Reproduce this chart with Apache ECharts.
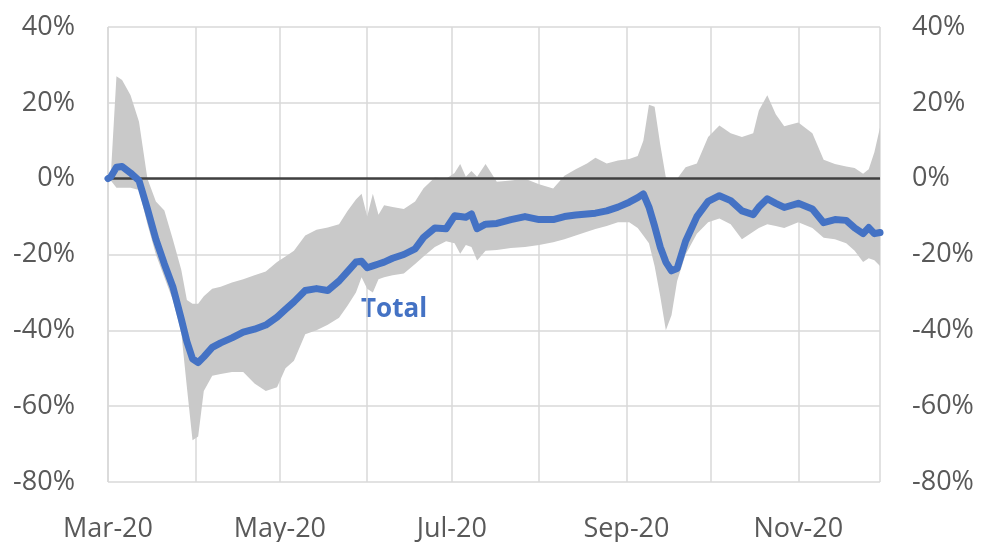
<!DOCTYPE html>
<html>
<head>
<meta charset="utf-8">
<script src="https://cdn.jsdelivr.net/npm/echarts@6/dist/echarts.min.js"></script>
<style>
  html, body { margin: 0; padding: 0; background: #fff; }
  #main { width: 983px; height: 542px; }
</style>
</head>
<body>
<div id="main"></div>
<script>
let myChart = echarts.init(document.getElementById("main"));

// sample dates (2020)
let dates = [
  "2020-03-01", "2020-03-02", "2020-03-04", "2020-03-06", "2020-03-09", "2020-03-12", "2020-03-15",
  "2020-03-18", "2020-03-21", "2020-03-24", "2020-03-27", "2020-03-29", "2020-03-31",
  "2020-04-02", "2020-04-04", "2020-04-07", "2020-04-10", "2020-04-14", "2020-04-18", "2020-04-22",
  "2020-04-26", "2020-04-30",
  "2020-05-03", "2020-05-06", "2020-05-10", "2020-05-14", "2020-05-18", "2020-05-22", "2020-05-25",
  "2020-05-28", "2020-05-30",
  "2020-06-01", "2020-06-03", "2020-06-05", "2020-06-07", "2020-06-10", "2020-06-14", "2020-06-18",
  "2020-06-21", "2020-06-25", "2020-06-29",
  "2020-07-02", "2020-07-04", "2020-07-06", "2020-07-08", "2020-07-10", "2020-07-13", "2020-07-17",
  "2020-07-22", "2020-07-27",
  "2020-08-01", "2020-08-06", "2020-08-10", "2020-08-14", "2020-08-18", "2020-08-21", "2020-08-25",
  "2020-08-29",
  "2020-09-02", "2020-09-05", "2020-09-07", "2020-09-09", "2020-09-11", "2020-09-13", "2020-09-15",
  "2020-09-17", "2020-09-19", "2020-09-22", "2020-09-26", "2020-09-30",
  "2020-10-04", "2020-10-08", "2020-10-12", "2020-10-16", "2020-10-18", "2020-10-21", "2020-10-24",
  "2020-10-27",
  "2020-11-01", "2020-11-06", "2020-11-10", "2020-11-14", "2020-11-18", "2020-11-21", "2020-11-24",
  "2020-11-26", "2020-11-28", "2020-11-30",
];

// Total (%)
let total = [
  0, 0.5, 3, 3.2, 1.5, -0.5, -8,
  -16, -22.5, -28.5, -37, -43, -47.5,
  -48.5, -47, -44.5, -43.3, -42, -40.5, -39.7,
  -38.6, -36.5,
  -34.5, -32.5, -29.5, -29, -29.5, -27, -24.5,
  -22, -21.8,
  -23.5, -23, -22.5, -22, -21, -20, -18.5,
  -15.5, -13, -13.2,
  -9.8, -10, -10.2, -9.3, -13.2, -12, -11.8,
  -10.8, -10,
  -10.8, -10.8, -10, -9.6, -9.3, -9.1, -8.5,
  -7.5,
  -6.2, -5, -4, -7.5, -12.5, -18, -22,
  -24.3, -23.7, -16.5, -10, -6,
  -4.5, -5.8, -8.5, -9.5, -7.5, -5.3, -6.5,
  -7.6,
  -6.5, -8, -11.6, -10.8, -11, -13, -14.5,
  -12.9, -14.5, -14.2,
];

// range upper bound (%)
let upper = [
  0, 1, 27, 26, 22, 15, 0,
  -6, -8.4, -16, -24, -32, -33,
  -33, -31, -29, -28.5, -27.4, -26.5, -25.5,
  -24.5, -22,
  -20.5, -19, -15, -13.5, -12.9, -12, -8.5,
  -5.5, -4,
  -10, -4, -9.5, -7, -7.5, -8, -6,
  -2.5, 0.3, 0,
  1.5, 3.9, 0.5, 2, 0.5, 3.9, -0.8,
  -0.5, 0,
  -1.5, -2.6, 0.8, 2.5, 4, 5.5, 4,
  4.8,
  5.2, 6, 10, 19.5, 19, 9, 0.3,
  0, 0, 3, 4, 11,
  14, 12, 11, 12, 18, 22, 17,
  13.8,
  14.8, 12, 5, 3.9, 3.2, 2.8, 1.3,
  2.5, 7, 13.5,
];

// range lower bound (%)
let lower = [
  0, -0.5, -2.4, -2.4, -2.4, -3, -12,
  -20, -26, -32, -40.5, -55, -69,
  -68, -56, -52, -51.5, -51, -51, -54,
  -56, -55,
  -50, -48, -41, -40, -38.5, -36.7, -33.5,
  -30, -26,
  -29, -30, -26.5, -26, -25.5, -25, -22.5,
  -20.5, -18, -16.5,
  -17, -19.8, -17.5, -18, -21.6, -19, -18.8,
  -18.3, -18,
  -17.5, -16.8, -16, -15, -14, -13.3, -12.5,
  -11.5,
  -11.5, -13, -15, -17, -23, -31, -40,
  -36, -27, -20, -14.5, -11.5,
  -10.5, -12, -16, -14, -13, -12, -12.5,
  -13,
  -11.5, -13, -15.6, -16, -17, -19, -22,
  -21, -21.5, -23,
];

let xTickLabels = ["Mar-20", "May-20", "Jul-20", "Sep-20", "Nov-20"];
let yTicks = [-80, -60, -40, -20, 0, 20, 40];

let lowerData = [];
let bandData = [];
let totalData = [];
for (let i = 0; i < dates.length; i++) {
  lowerData.push([dates[i], lower[i]]);
  bandData.push([dates[i], upper[i] - lower[i]]);
  totalData.push([dates[i], total[i]]);
}

let fontFamily = "'Open Sans', sans-serif";
let labelColor = "#595959";
let gridColor = "#d9d9d9";

function monthLabel(value) {
  let d = new Date(value);
  let idx = (d.getMonth() - 2) / 2;
  if (d.getDate() === 1 && Number.isInteger(idx) && xTickLabels[idx]) {
    return xTickLabels[idx];
  }
  return "";
}

let yAxisBase = {
  type: "value",
  min: yTicks[0],
  max: yTicks[yTicks.length - 1],
  interval: 20,
  axisLine: { show: false },
  axisTick: { show: false },
};

let option = {
  animation: false,
  backgroundColor: "#ffffff",
  grid: {
    left: 108,
    right: 103,
    top: 27,
    bottom: 60,
    outerBoundsMode: "none",
  },
  xAxis: {
    type: "time",
    min: "2020-03-01",
    max: "2020-11-30",
    minInterval: 28 * 24 * 3600 * 1000,
    maxInterval: 31 * 24 * 3600 * 1000,
    axisLine: { show: true, lineStyle: { color: gridColor, width: 1.5 } },
    axisTick: { show: false },
    splitLine: { show: true, lineStyle: { color: gridColor, width: 1.5 } },
    axisLabel: {
      formatter: monthLabel,
      hideOverlap: false,
      fontFamily: fontFamily,
      fontSize: 27,
      color: labelColor,
      margin: 34,
    },
  },
  yAxis: [
    Object.assign({}, yAxisBase, {
      position: "left",
      splitLine: { show: true, lineStyle: { color: gridColor, width: 1.5 } },
      axisLabel: {
        formatter: "{value}%",
        fontFamily: fontFamily,
        fontSize: 27,
        color: labelColor,
        margin: 33,
      },
    }),
    Object.assign({}, yAxisBase, {
      position: "right",
      splitLine: { show: false },
      axisLabel: {
        formatter: "{value}%",
        fontFamily: fontFamily,
        fontSize: 27,
        color: labelColor,
        margin: 32,
      },
    }),
  ],
  graphic: [
    {
      type: "text",
      left: 361,
      top: 297,
      style: {
        text: "Total",
        fill: "#4472C4",
        font: "bold 26px 'Open Sans', sans-serif",
      },
    },
  ],
  series: [
    {
      name: "lower",
      type: "line",
      data: lowerData,
      stack: "band",
      stackStrategy: "all",
      showSymbol: false,
      lineStyle: { opacity: 0 },
      silent: true,
    },
    {
      name: "range",
      type: "line",
      data: bandData,
      stack: "band",
      stackStrategy: "all",
      showSymbol: false,
      lineStyle: { opacity: 0 },
      areaStyle: { color: "#c9c9c9", opacity: 1 },
      silent: true,
    },
    {
      name: "zero",
      type: "line",
      data: [],
      markLine: {
        silent: true,
        symbol: "none",
        label: { show: false },
        lineStyle: { color: "#404040", width: 2.5, type: "solid" },
        data: [{ yAxis: 0 }],
      },
    },
    {
      name: "Total",
      type: "line",
      data: totalData,
      showSymbol: false,
      lineStyle: { color: "#4472C4", width: 7, join: "round", cap: "round" },
      z: 5,
    },
  ],
};

myChart.setOption(option);
</script>
</body>
</html>
